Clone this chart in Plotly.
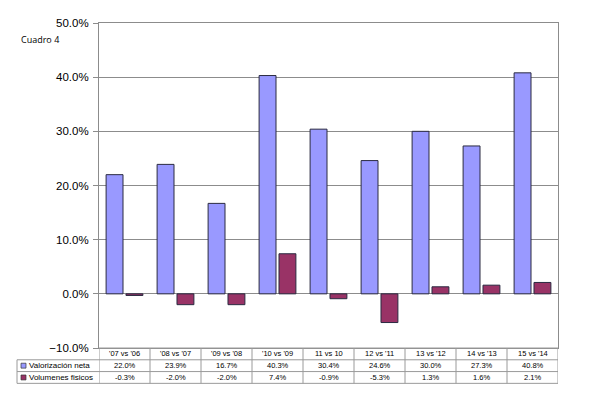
import plotly.graph_objects as go

categories = ["'07 vs '06", "'08 vs '07", "'09 vs '08", "'10 vs '09", "11 vs 10",
              "12 vs '11", "13 vs '12", "14 vs '13", "15 vs '14"]
valorizacion = [22.0, 23.9, 16.7, 40.3, 30.4, 24.6, 30.0, 27.3, 40.8]
volumenes = [-0.3, -2.0, -2.0, 7.4, -0.9, -5.3, 1.3, 1.6, 2.1]
series_names = ["Valorización neta", "Volumenes fisicos"]
series_colors = ["#9999FF", "#993366"]
series_values = [valorizacion, volumenes]

# page body has an 8px default margin
W, H = 590, 388
ml, mr, mt, mb = 91, 40, 9, 48
plot_w = W - ml - mr
plot_h = H - mt - mb
row_h = 12.0 / plot_h
leg_left = -(ml - 9) / plot_w

fig = go.Figure()
for name, vals, col in zip(series_names, series_values, series_colors):
    fig.add_trace(go.Bar(x=list(range(len(categories))), y=vals, name=name,
                         marker=dict(color=col, line=dict(color="#2a2a40", width=1))))

grid = "#8c8c8c"
tab = "#9a9a9a"
shapes = []
annotations = []
n = len(categories)
# table horizontal lines over category columns
for k in range(4):
    shapes.append(dict(type="line", xref="x", yref="paper", x0=-0.5, x1=n - 0.5,
                       y0=-k * row_h, y1=-k * row_h, line=dict(color=tab, width=1)))
# legend column lines
for k in range(1, 4):
    shapes.append(dict(type="line", xref="paper", yref="paper", x0=leg_left, x1=0,
                       y0=-k * row_h, y1=-k * row_h, line=dict(color=tab, width=1)))
shapes.append(dict(type="line", xref="paper", yref="paper", x0=leg_left, x1=leg_left,
                   y0=-row_h, y1=-3 * row_h, line=dict(color=tab, width=1)))
# vertical lines
for i in range(n + 1):
    shapes.append(dict(type="line", xref="x", yref="paper", x0=i - 0.5, x1=i - 0.5,
                       y0=0, y1=-3 * row_h, line=dict(color=tab, width=1)))

tfont = dict(family="Liberation Sans, Arial", size=7.5, color="#000000")
for i, c in enumerate(categories):
    annotations.append(dict(xref="x", yref="paper", x=i, y=-0.5 * row_h, text=c,
                            showarrow=False, font=tfont, xanchor="center", yanchor="middle"))
    for r, vals in enumerate(series_values):
        annotations.append(dict(xref="x", yref="paper", x=i, y=-(1.5 + r) * row_h,
                                text=f"{vals[i]:.1f}%", showarrow=False, font=tfont,
                                xanchor="center", yanchor="middle"))
# legend keys
for r, (name, col) in enumerate(zip(series_names, series_colors)):
    yc = -(1.5 + r) * row_h
    shapes.append(dict(type="rect", xref="paper", yref="paper",
                       x0=leg_left + 4 / plot_w, x1=leg_left + 9 / plot_w,
                       y0=yc - 2.5 / plot_h, y1=yc + 2.5 / plot_h,
                       fillcolor=col, line=dict(color="#333333", width=0.7)))
    annotations.append(dict(xref="paper", yref="paper", x=leg_left + 10 / plot_w, y=yc,
                            text=name, showarrow=False, xanchor="left", yanchor="middle",
                            font=dict(family="Liberation Sans, Arial", size=8, color="#000000")))

annotations.append(dict(xref="paper", yref="paper", x=(11 - ml) / plot_w,
                        y=(H - mb - 26) / plot_h,
                        text="Cuadro 4", showarrow=False, xanchor="left", yanchor="middle",
                        font=dict(family="Open Sans, DejaVu Sans", size=9, color="#000000")))

fig.update_layout(
    width=W, height=H, margin=dict(l=ml, r=mr, t=mt, b=mb, pad=0),
    paper_bgcolor="white", plot_bgcolor="white", showlegend=False,
    barmode="group", bargap=0.22, bargroupgap=0.15,
    shapes=shapes, annotations=annotations,
    xaxis=dict(range=[-0.5, n - 0.5], showticklabels=False, ticks="", showgrid=False,
               showline=True, mirror=True, linecolor=grid, linewidth=1, zeroline=False),
    yaxis=dict(range=[-10, 50], dtick=10, tick0=0, tickformat=".1f", ticksuffix="%",
               ticks="outside", ticklen=5, tickcolor=grid, showline=True, mirror=True,
               linecolor=grid, linewidth=1, showgrid=True, gridcolor=grid, gridwidth=1,
               zeroline=False, ticklabelstandoff=2,
               tickfont=dict(family="Liberation Sans, Arial", size=11.5, color="#000000")),
)
fig.write_html("out.html")
